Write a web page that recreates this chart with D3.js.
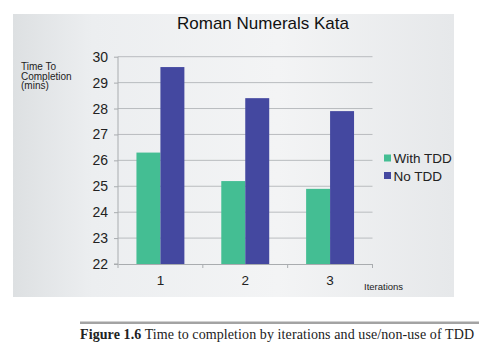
<!DOCTYPE html>
<html><head><meta charset="utf-8">
<script src="https://cdn.jsdelivr.net/npm/d3@7"></script>
<style>html,body{margin:0;padding:0;background:#fff;}svg{display:block;}</style>
</head><body>
<svg id="chart" width="491" height="355"></svg>
<script>
const categories = ["1", "2", "3"];
const seriesNames = ["With TDD", "No TDD"];
const withTDD = [26.3, 25.2, 24.9];
const noTDD = [29.6, 28.4, 27.9];
const yTicks = [22, 23, 24, 25, 26, 27, 28, 29, 30];
const colors = ["#44be93", "#4448a0"];

const svg = d3.select("#chart");
const defs = svg.append("defs");
const grad = defs.append("linearGradient").attr("id", "bg").attr("x1", "0").attr("y1", "0").attr("x2", "1").attr("y2", "0");
grad.append("stop").attr("offset", "0").attr("stop-color", "#dde0e2");
grad.append("stop").attr("offset", "0.18").attr("stop-color", "#eceef0");
grad.append("stop").attr("offset", "0.6").attr("stop-color", "#f3f4f5");
grad.append("stop").attr("offset", "1").attr("stop-color", "#e6e8ea");
svg.append("rect").attr("x", 13).attr("y", 14).attr("width", 441).attr("height", 283).attr("fill", "url(#bg)");

const x0 = d3.scaleBand().domain(categories).range([118, 372.5]).paddingInner(0).paddingOuter(0);
const x1 = d3.scaleBand().domain(seriesNames).range([0, x0.bandwidth()]).paddingInner(0).paddingOuter(0.77);
const y = d3.scaleLinear().domain([22, 30]).range([264, 56.7]);

// gridlines
svg.append("g").selectAll("line").data(yTicks.slice(1)).join("line")
  .attr("x1", 118).attr("x2", 372.5).attr("y1", d => y(d)).attr("y2", d => y(d))
  .attr("stroke", "#b9bcbf").attr("stroke-width", 1);

// y axis
const yAxis = d3.axisLeft(y).tickValues(yTicks).tickSize(4).tickPadding(6).tickFormat(d3.format("d"));
const gy = svg.append("g").attr("transform", "translate(118,0)").call(yAxis);
gy.select(".domain").attr("stroke", "#a9acaf").attr("d", `M-4,${y(22)}H0V${y(30)}`);
gy.selectAll(".tick line").attr("stroke", "#a9acaf");
gy.selectAll("text").attr("font-family", "Liberation Sans, Arial, sans-serif").attr("font-size", 14).attr("fill", "#222");

// bars
const groups = svg.append("g").selectAll("g").data(categories).join("g")
  .attr("transform", d => `translate(${x0(d)},0)`);
groups.selectAll("rect").data((d, i) => [withTDD[i], noTDD[i]].map((v, j) => ({ v, s: seriesNames[j], j })))
  .join("rect")
  .attr("x", d => x1(d.s)).attr("width", x1.bandwidth())
  .attr("y", d => y(d.v)).attr("height", d => y(22) - y(d.v))
  .attr("fill", d => colors[d.j]);

// x axis
const xAxis = d3.axisBottom(x0).tickSize(0).tickPadding(11);
const gx = svg.append("g").attr("transform", `translate(0,${y(22)})`).call(xAxis);
gx.select(".domain").attr("stroke", "#a9acaf");
gx.selectAll("text").attr("font-family", "Liberation Sans, Arial, sans-serif").attr("font-size", 13.5).attr("fill", "#222");
// boundary ticks
svg.append("g").selectAll("line").data(categories.map(c => x0(c)).concat([x0.range()[1]])).join("line")
  .attr("x1", d => d).attr("x2", d => d).attr("y1", y(22)).attr("y2", y(22) + 4)
  .attr("stroke", "#a9acaf");

// title
svg.append("text").attr("x", 263).attr("y", 29).attr("text-anchor", "middle")
  .attr("font-family", "Liberation Sans, Arial, sans-serif").attr("font-size", 17).attr("fill", "#111")
  .text("Roman Numerals Kata");

// y title
const yt = svg.append("text").attr("font-family", "Liberation Sans, Arial, sans-serif").attr("font-size", 10).attr("fill", "#222");
["Time To", "Completion", "(mins)"].forEach((t, i) => yt.append("tspan").attr("x", 21).attr("y", 70 + i * 9.6).text(t));

// x title
svg.append("text").attr("x", 364).attr("y", 290).attr("font-family", "Liberation Sans, Arial, sans-serif")
  .attr("font-size", 9.5).attr("fill", "#222").text("Iterations");

// legend
const lg = svg.append("g").selectAll("g").data(seriesNames).join("g")
  .attr("transform", (d, i) => `translate(384,${158 + i * 17.5})`);
lg.append("rect").attr("x", 0).attr("y", -3.5).attr("width", 7).attr("height", 7).attr("fill", (d, i) => colors[i]);
lg.append("text").attr("x", 9.5).attr("y", 5).attr("font-family", "Liberation Sans, Arial, sans-serif")
  .attr("font-size", 13.5).attr("fill", "#222").text(d => d);

// caption
svg.append("rect").attr("x", 80).attr("y", 321.5).attr("width", 399).attr("height", 2.5).attr("fill", "#a3a3a3");
const cap = svg.append("text").attr("x", 80).attr("y", 339).attr("font-family", "Liberation Serif, Georgia, serif")
  .attr("font-size", 14).attr("fill", "#222").attr("textLength", 394).attr("lengthAdjust", "spacing");
cap.append("tspan").attr("font-weight", "bold").text("Figure 1.6");
cap.append("tspan").text(" Time to completion by iterations and use/non-use of TDD");
</script>
</body></html>
